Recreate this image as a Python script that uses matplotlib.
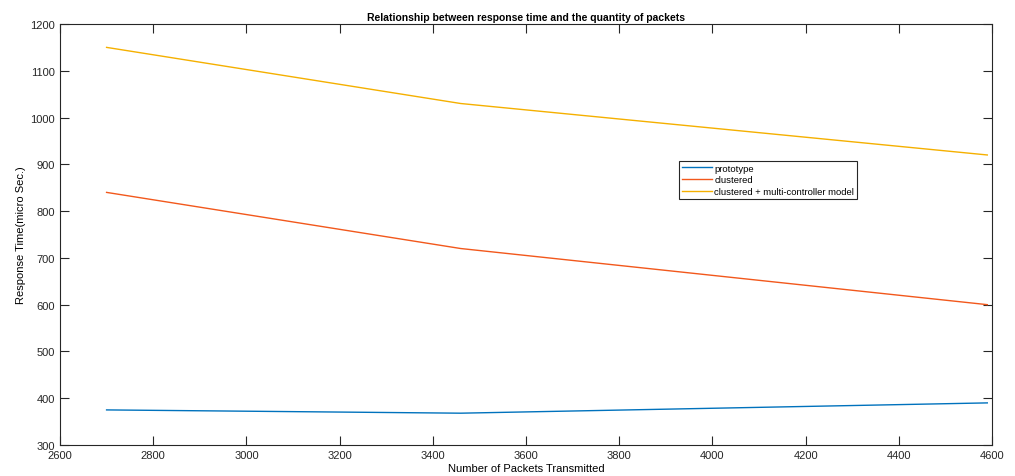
import matplotlib
matplotlib.use('Agg')
import matplotlib.pyplot as plt

plt.rcParams['font.family'] = ['Liberation Sans', 'DejaVu Sans']

packets = [2700, 3460, 4590]
prototype = [375, 368, 390]
clustered = [840, 720, 600]
multi_ctrl = [1150, 1030, 920]

fig = plt.figure(figsize=(10.15, 4.77), dpi=100)
ax = fig.add_axes([0.0591, 0.065, 0.9182, 0.8826])

ax.plot(packets, prototype, color='#0072BD', lw=1.0, label='prototype')
ax.plot(packets, clustered, color='#F2581C', lw=1.0, label='clustered')
ax.plot(packets, multi_ctrl, color='#F5B000', lw=1.0, label='clustered + multi-controller model')

ax.set_xlim(2600, 4600)
ax.set_ylim(300, 1200)
ax.set_xticks(range(2600, 4601, 200))
ax.set_yticks(range(300, 1201, 100))
ax.tick_params(direction='in', top=True, right=True, labelsize=8, colors='#262626', length=6.5)
for s in ax.spines.values():
    s.set_color('#262626')
    s.set_linewidth(0.8)

ax.set_title('Relationship between response time and the quantity of packets',
             fontsize=7.5, fontweight='bold', pad=3)
ax.set_xlabel('Number of Packets Transmitted', fontsize=8, labelpad=2)
ax.set_ylabel('Response Time(micro Sec.)', fontsize=8, labelpad=3)

leg = ax.legend(loc='upper left', bbox_to_anchor=(0.664, 0.675), fontsize=6.8,
                fancybox=False, edgecolor='#262626', framealpha=1,
                handlelength=3.2, handletextpad=0.25, borderpad=0.3, labelspacing=0.3,
                borderaxespad=0)
leg.get_frame().set_linewidth(0.8)

fig.savefig('out.png', dpi=100)
